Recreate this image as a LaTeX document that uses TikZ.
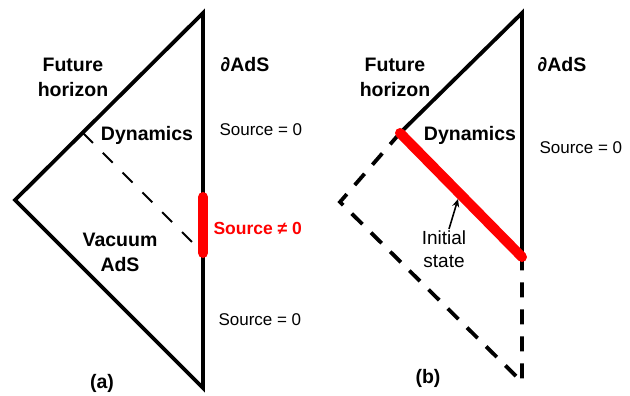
\documentclass[tikz,border=0pt]{standalone}
\usepackage{fontspec}
\setmainfont{Liberation Sans}
\usetikzlibrary{arrows.meta, positioning}
\definecolor{SourceRed}{HTML}{FF0000}

\begin{document}
\begin{tikzpicture}[
    x=1bp, y=-1bp,
    edge/.style={line width=3.8bp, line cap=round, line join=miter},
    hidden/.style={line width=3.8bp, dash pattern=on 15bp off 12bp},
    cut/.style={line width=2bp, dash pattern=on 14bp off 14bp},
    hot/.style={line width=10bp, color=SourceRed, line cap=round},
    lbl/.style={font=\fontsize{19.5bp}{25bp}\selectfont\bfseries, align=center},
    src/.style={font=\fontsize{17bp}{20bp}\selectfont, anchor=west},
    ptr/.style={-{Stealth[length=8bp, width=7bp]}, line width=1.6bp}
]
    \useasboundingbox (0,0) rectangle (630,395);

    % (a) Source switched on for a while
    \coordinate (aTop) at (203,13);
    \coordinate (aLeft) at (15,200);
    \coordinate (aBot) at (203,388);
    \coordinate (aOn) at (203,197);
    \coordinate (aOff) at (203,253);
    \coordinate (aCut) at (83,133);

    \draw[edge] (aTop) -- (aLeft) -- (aBot) -- cycle;
    \draw[cut] (aCut) -- (aOff);
    \draw[hot] (aOn) -- (aOff);

    \node[lbl] (aHor) at (73,77) {Future\\horizon};
    \node[lbl] (aBdy) at (245,65) {∂AdS};
    \node[lbl] (aDyn) at (147,135) {Dynamics};
    \node[lbl] (aVac) at (120,252) {Vacuum\\AdS};
    \node[src] (aSrcUp) at (216,130) {Source = 0};
    \node[src, font=\fontsize{17.5bp}{20bp}\selectfont\bfseries, text=SourceRed] (aSrcOn) at (210,228) {Source ≠ 0};
    \node[src] (aSrcLo) at (215,320) {Source = 0};
    \node[lbl] (aTag) at (102,383) {(a)};

    % (b) Initial value problem
    \coordinate (bTop) at (522,13);
    \coordinate (bInit) at (400,133);
    \coordinate (bLeft) at (340,202);
    \coordinate (bBot) at (522,382);
    \coordinate (bEdge) at (522,257);
    \coordinate (bHit) at (458,199);

    \draw[edge] (bInit) -- (bTop) -- (bEdge);
    \draw[hidden] (bInit) -- (bLeft) -- (bBot) -- (bEdge);
    \draw[hot] (bInit) -- (bEdge);

    \node[lbl] (bHor) at (395,77) {Future\\horizon};
    \node[lbl] (bBdy) at (562,65) {∂AdS};
    \node[lbl] (bDyn) at (470,135) {Dynamics};
    \node[src] (bSrc) at (536,148) {Source = 0};
    \node[src, anchor=center, align=center, font=\fontsize{19bp}{23bp}\selectfont] (bState) at (444,249) {Initial\\state};
    \node[lbl] (bTag) at (428,378) {(b)};

    \draw[ptr] (bState.north) ++(5,2) coordinate (bFoot) (bFoot) -- (bHit);
\end{tikzpicture}
\end{document}
